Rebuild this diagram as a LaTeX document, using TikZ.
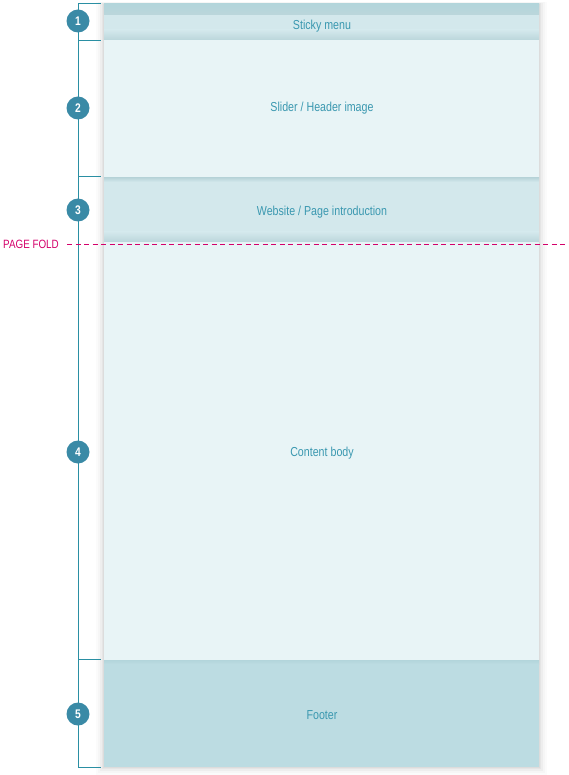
\documentclass[tikz,border=0pt]{standalone}
\usepackage{fontspec}
\setmainfont{Liberation Sans}[FakeStretch=0.82]
\definecolor{bandA}{HTML}{D3E8EC}
\definecolor{bandB}{HTML}{E8F4F6}
\definecolor{bandC}{HTML}{BCDCE2}
\definecolor{stripC}{HTML}{B3D5DB}
\definecolor{shadeC}{HTML}{BBD6DB}
\definecolor{txtC}{HTML}{3A98B0}
\definecolor{lineC}{HTML}{2A8FA3}
\definecolor{circC}{HTML}{3A8AA6}
\definecolor{foldC}{HTML}{D4006A}
\begin{document}
\begin{tikzpicture}[x=1pt,y=-1pt,
  lbl/.style={text=txtC,font=\fontsize{13}{15}\selectfont},
  num/.style={circle,fill=circC,minimum size=23pt,inner sep=0pt,text=white,font=\bfseries\fontsize{12.5}{14}\selectfont},
  brk/.style={draw=lineC,line width=1pt}]
\useasboundingbox (0,0) rectangle (569,775);
% shadow
\foreach \i/\o in {8/0.015,6/0.02,4/0.03,2/0.04,1/0.04}{
  \fill[black,opacity=\o] (104-\i,4-\i*0.3) rectangle (539+\i,767+\i);
}
% bands
\fill[bandA] (104,4) rectangle (539,40);
\shade[top color=stripC,bottom color=shadeC] (104,4) rectangle (539,15);
\shade[top color=bandA,bottom color=shadeC] (104,30) rectangle (539,40);
\fill[bandB] (104,40) rectangle (539,178);
\fill[bandA] (104,178) rectangle (539,242);
\shade[top color=bandA,bottom color=shadeC] (104,232) rectangle (539,242);
\shade[top color=shadeC,bottom color=bandA] (104,178) rectangle (539,182);
\fill[bandB] (104,242) rectangle (539,660);
\fill[bandC] (104,660) rectangle (539,767);
\shade[top color=stripC,bottom color=bandC] (104,660) rectangle (539,664);
% labels
\node[lbl] (l1) at (322,26.5) {Sticky menu};
\node[lbl] (l2) at (322,108.5) {Slider / Header image};
\node[lbl] (l3) at (322,212.5) {Website / Page introduction};
\node[lbl] (l4) at (322,453.5) {Content body};
\node[lbl] (l5) at (322,715.5) {Footer};
% bracket
\coordinate (t0) at (78,4);
\coordinate (b0) at (78,767);
\draw[brk] (t0) -- (b0);
\foreach \y in {4,41,177,659.5,767}{
  \draw[brk] (78,\y) -- (101,\y);
}
\node[num] (n1) at (78,21) {1};
\node[num] (n2) at (78,108) {2};
\node[num] (n3) at (78,210) {3};
\node[num] (n4) at (78,452) {4};
\node[num] (n5) at (78,714) {5};
% page fold
\node[text=foldC,anchor=west,inner sep=0pt,font=\fontsize{12}{14}\selectfont] (pf) at (3,244.5) {PAGE FOLD};
\coordinate (fa) at (67,244);
\coordinate (fb) at (567,244);
\draw[foldC,line width=0.8pt,dash pattern=on 5pt off 3.5pt] (fa) -- (fb);
\end{tikzpicture}
\end{document}
